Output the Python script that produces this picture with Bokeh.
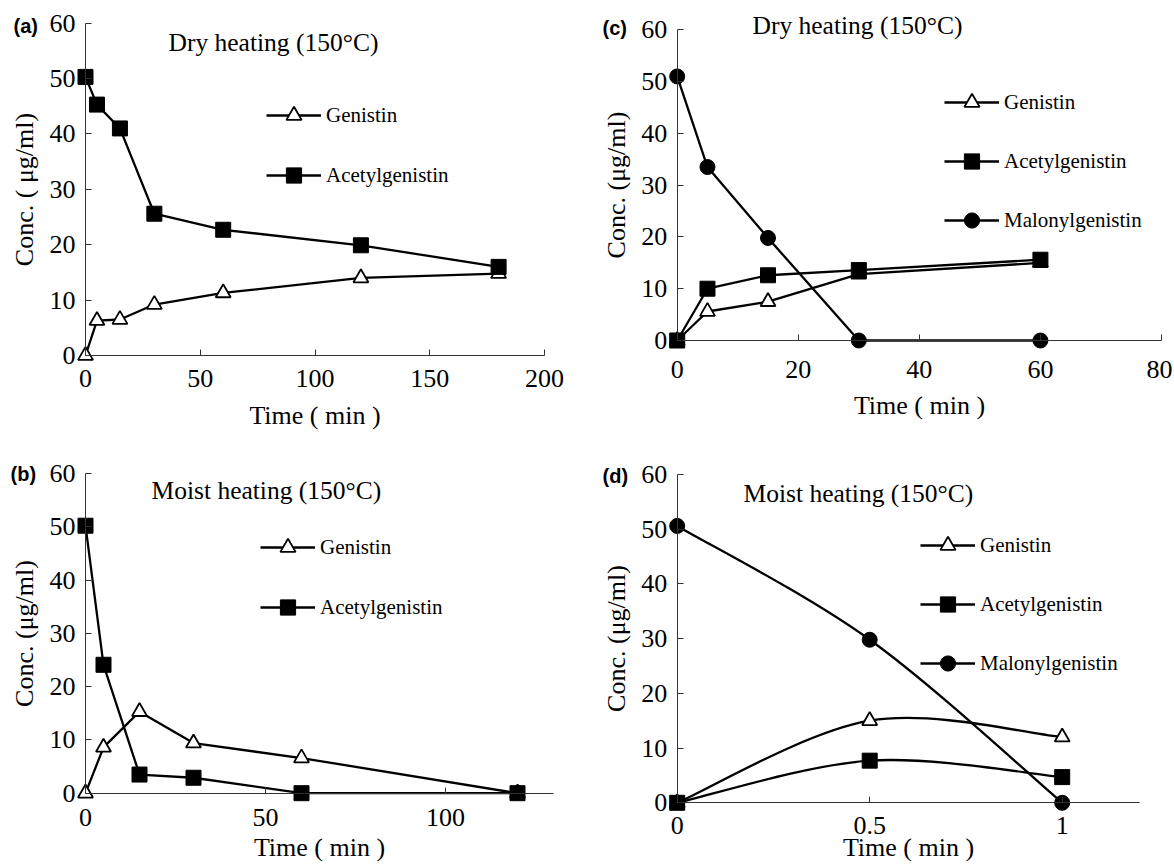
import math
from bokeh.plotting import figure
from bokeh.models import (Range1d, LinearAxis, FixedTicker, Label, Legend,
                          LegendItem, ColumnDataSource)
from bokeh.layouts import row, column
from bokeh.embed import file_html
from bokeh.resources import INLINE

# ---------------- data ----------------
a_time = [0, 5, 15, 30, 60, 120, 180]
a_genistin = [0, 6.3, 6.5, 9.2, 11.3, 14.0, 14.8]
a_acetyl = [50.3, 45.3, 41.0, 25.6, 22.7, 19.9, 16.0]

b_time = [0, 5, 15, 30, 60, 120]
b_genistin = [0, 8.6, 15.3, 9.4, 6.6, 0]
b_acetyl = [50.2, 24.1, 3.5, 2.9, 0, 0]

c_time = [0, 5, 15, 30, 60]
c_genistin = [0, 5.6, 7.5, 12.8, 15.0]
c_acetyl = [0, 10.0, 12.6, 13.6, 15.6]
c_malonyl = [51.0, 33.5, 19.8, 0, 0]

d_time = [0, 0.5, 1]
d_genistin = [0, 15.0, 12.0]
d_acetyl = [0, 7.7, 4.7]
d_malonyl = [50.6, 29.8, 0]

y_ticks = [0, 10, 20, 30, 40, 50, 60]
a_xticks = [0, 50, 100, 150, 200]
b_xticks = [0, 50, 100]
c_xticks = [0, 20, 40, 60, 80]
d_xticks = [0, 0.5, 1]

SERIF = "Liberation Serif"
SANS = "Liberation Sans"
AX = "#333333"


def smooth_segments(xs, ys):
    """Excel-like smoothing: Catmull-Rom style cubic Bezier control points."""
    n = len(xs)
    out = dict(x0=[], y0=[], x1=[], y1=[], cx0=[], cy0=[], cx1=[], cy1=[])
    for i in range(n - 1):
        i0 = i - 1 if i > 0 else i
        i3 = i + 2 if i + 2 < n else i + 1
        out["x0"].append(xs[i]); out["y0"].append(ys[i])
        out["x1"].append(xs[i + 1]); out["y1"].append(ys[i + 1])
        out["cx0"].append(xs[i] + (xs[i + 1] - xs[i0]) / 6.0)
        out["cy0"].append(ys[i] + (ys[i + 1] - ys[i0]) / 6.0)
        out["cx1"].append(xs[i + 1] - (xs[i3] - xs[i]) / 6.0)
        out["cy1"].append(ys[i + 1] - (ys[i3] - ys[i]) / 6.0)
    return out


def make_panel(fig, xmap, ymap, xbound, xticks, ylabel, title, title_pos,
               tag, tag_pos, series, legend_pos, tick_standoff, label_standoff,
               smooth=False, x_overrides=None):
    fx, fy, fw, fh = fig
    (xa, pxa), (xb, pxb) = xmap
    (ya, pya), (yb, pyb) = ymap
    sx = (pxb - pxa) / (xb - xa)
    x0 = xa - (pxa - fx) / sx
    x1 = x0 + fw / sx
    sy = (pya - pyb) / (yb - ya)
    y0 = ya - (fy + fh - pya) / sy
    y1 = y0 + fh / sy

    def px2x(px):
        return x0 + (px - fx) / sx

    def py2y(py):
        return y0 + (fy + fh - py) / sy

    p = figure(width=fw, height=fh, x_range=Range1d(x0, x1), y_range=Range1d(y0, y1),
               x_axis_location=None, y_axis_location=None, toolbar_location=None,
               output_backend="svg", min_border=0, outline_line_color=None)
    p.background_fill_color = "white"
    p.border_fill_color = "white"
    p.xgrid.visible = False
    p.ygrid.visible = False

    xaxis = LinearAxis(fixed_location=0, bounds=(0, xbound),
                       ticker=FixedTicker(ticks=xticks), axis_label="Time ( min )")
    yaxis = LinearAxis(fixed_location=0, bounds=(0, 60),
                       ticker=FixedTicker(ticks=y_ticks), axis_label=ylabel)
    if x_overrides:
        xaxis.major_label_overrides = x_overrides
    for ax in (xaxis, yaxis):
        ax.axis_line_color = AX
        ax.axis_line_width = 1
        ax.major_tick_line_color = AX
        ax.major_tick_line_width = 1
        ax.major_tick_in = 6
        ax.major_tick_out = 0
        ax.minor_tick_line_color = None
        ax.major_label_text_font = SERIF
        ax.major_label_text_font_size = "26px"
        ax.major_label_text_color = "black"
        ax.axis_label_text_font = SERIF
        ax.axis_label_text_font_size = "26px"
        ax.axis_label_text_font_style = "normal"
        ax.axis_label_text_color = "black"
    xaxis.major_label_standoff = tick_standoff
    xaxis.axis_label_standoff = label_standoff
    yaxis.major_label_standoff = 10
    yaxis.axis_label_standoff = 8
    p.add_layout(xaxis, "below")
    p.add_layout(yaxis, "left")

    styles = {
        "Genistin": dict(marker="triangle", size=15, fill_color="white", line_width=1.8),
        "Acetylgenistin": dict(marker="square", size=15, fill_color="black", line_width=1),
        "Malonylgenistin": dict(marker="circle", size=15, fill_color="black", line_width=1),
    }
    line_rs = {}
    for name, xs, ys in series:
        if smooth:
            src = ColumnDataSource(smooth_segments(xs, ys))
            p.bezier(x0="x0", y0="y0", x1="x1", y1="y1", cx0="cx0", cy0="cy0",
                     cx1="cx1", cy1="cy1", source=src, line_color="black", line_width=2.3)
            line_rs[name] = p.line(x=[float("nan")], y=[float("nan")],
                                   line_color="black", line_width=2.3)
        else:
            line_rs[name] = p.line(x=xs, y=ys, line_color="black", line_width=2.3)
    items = []
    for name, xs, ys in series:
        st = styles[name]
        r = p.scatter(x=xs, y=ys, marker=st["marker"], size=st["size"],
                      fill_color=st["fill_color"], line_color="black",
                      line_width=st["line_width"])
        items.append(LegendItem(label=name, renderers=[line_rs[name], r]))

    lx, ly0, step = legend_pos
    n = len(items)
    hitem = 38
    bottom_page = ly0 + hitem / 2 + (n - 1) * step
    legend = Legend(items=items, location=(lx - fx, fh - (bottom_page - fy)),
                    orientation="vertical", glyph_width=55, glyph_height=hitem,
                    label_height=hitem, label_standoff=5, spacing=int(step - hitem),
                    padding=0, margin=0, border_line_color=None,
                    background_fill_alpha=0, label_text_font=SERIF,
                    label_text_font_size="21px", label_text_color="black")
    p.add_layout(legend, "center")

    tx, ty = title_pos
    p.add_layout(Label(x=px2x(tx), y=py2y(ty), text=title, text_font=SERIF,
                       text_font_size="25.5px", text_color="black",
                       text_baseline="middle", text_align="left"))
    gx, gy = tag_pos
    p.add_layout(Label(x=px2x(gx), y=py2y(gy), text=tag, text_font=SANS,
                       text_font_size="20px", text_font_style="bold",
                       text_color="black", text_baseline="middle", text_align="left"))
    return p


pa = make_panel(fig=(0, 0, 590, 440), xmap=((0, 85), (200, 544)),
                ymap=((0, 355), (60, 22.7)), xbound=200, xticks=a_xticks,
                ylabel="Conc. ( μg/ml)", title="Dry heating (150°C)", title_pos=(168, 42),
                tag="(a)", tag_pos=(13, 25.5),
                series=[("Genistin", a_time, a_genistin),
                        ("Acetylgenistin", a_time, a_acetyl)],
                legend_pos=(266, 115, 60), tick_standoff=14, label_standoff=11)

pb = make_panel(fig=(0, 440, 590, 426), xmap=((0, 85), (100, 445)),
                ymap=((0, 792.7), (60, 473)), xbound=130, xticks=b_xticks,
                ylabel="Conc. (μg/ml)", title="Moist heating (150°C)", title_pos=(151, 490),
                tag="(b)", tag_pos=(10, 473.5),
                series=[("Genistin", b_time, b_genistin),
                        ("Acetylgenistin", b_time, b_acetyl)],
                legend_pos=(260, 547, 60), tick_standoff=16, label_standoff=3)

pc = make_panel(fig=(590, 0, 582, 440), xmap=((0, 676.7), (80, 1161)),
                ymap=((0, 340), (60, 29.3)), xbound=80, xticks=c_xticks,
                ylabel="Conc. (μg/ml)", title="Dry heating (150°C)", title_pos=(752, 25),
                tag="(c)", tag_pos=(602, 27.5),
                series=[("Genistin", c_time, c_genistin),
                        ("Acetylgenistin", c_time, c_acetyl),
                        ("Malonylgenistin", c_time, c_malonyl)],
                legend_pos=(944, 102, 59), tick_standoff=20, label_standoff=10)

pd_ = make_panel(fig=(590, 440, 582, 426), xmap=((0, 676.7), (1, 1061.7)),
                 ymap=((0, 802.3), (60, 474)), xbound=1.2, xticks=d_xticks,
                 ylabel="Conc. (μg/ml)", title="Moist heating (150°C)", title_pos=(743, 493),
                 tag="(d)", tag_pos=(602, 475.5),
                 series=[("Genistin", d_time, d_genistin),
                         ("Acetylgenistin", d_time, d_acetyl),
                         ("Malonylgenistin", d_time, d_malonyl)],
                 legend_pos=(920, 545, 59), tick_standoff=14, label_standoff=-4,
                 smooth=True, x_overrides={0: "0", 0.5: "0.5", 1: "1"})

layout = row(column(pa, pb), column(pc, pd_))
open("out.html", "w").write(file_html(layout, INLINE))
